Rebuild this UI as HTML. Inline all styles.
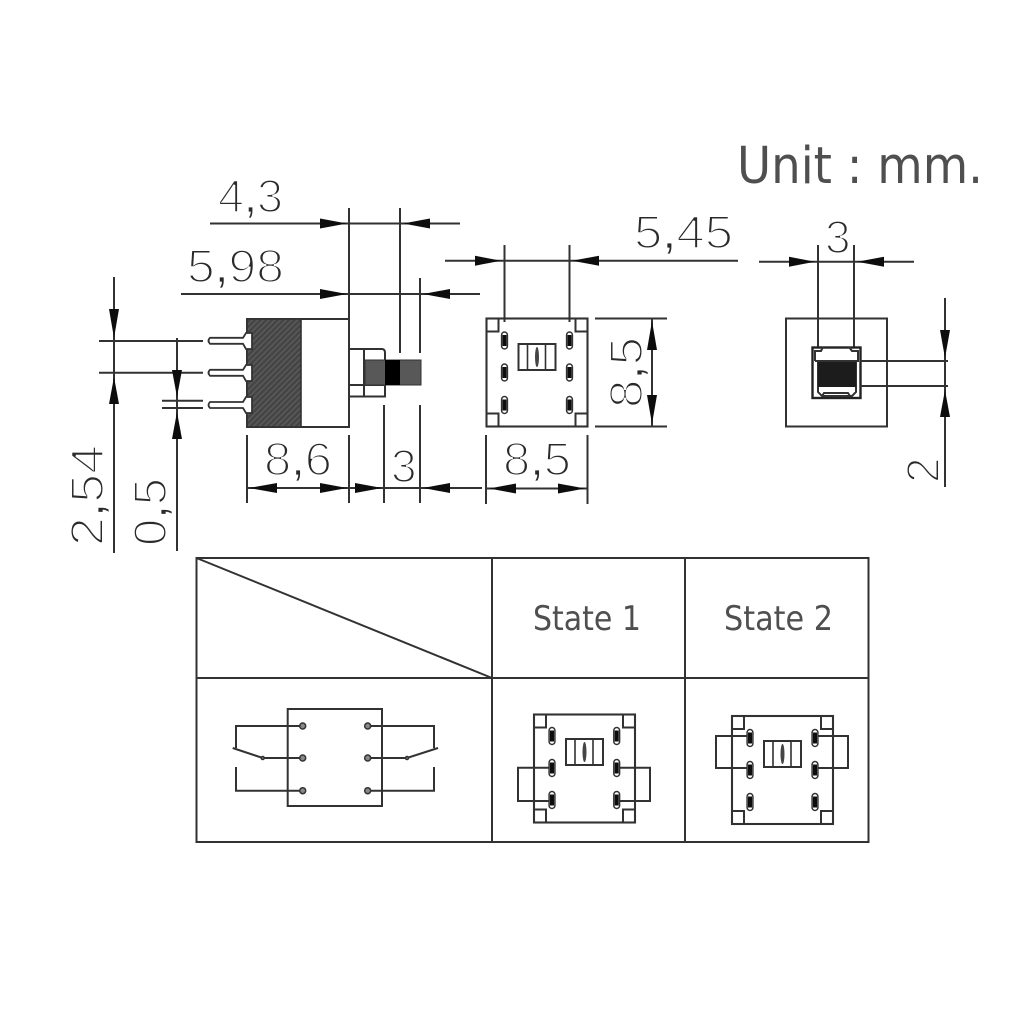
<!DOCTYPE html>
<html>
<head>
<meta charset="utf-8">
<style>
html,body{margin:0;padding:0;background:#fff;width:1024px;height:1024px;overflow:hidden}
svg{display:block}
.cad{font-family:"Liberation Sans",sans-serif;font-size:46px;fill:#2a2a2a;stroke:#fff;stroke-width:2px}
.cad tspan{stroke-width:.7px}
.lab{font-family:"DejaVu Sans",sans-serif;fill:#505050}
.l{fill:none;stroke:#333;stroke-width:2}
.a{fill:#111;stroke:none}
</style>
</head>
<body>
<svg width="1024" height="1024" viewBox="0 0 1024 1024" xmlns="http://www.w3.org/2000/svg">
<defs>
  <filter id="soft" filterUnits="userSpaceOnUse" x="0" y="0" width="1024" height="1024"><feGaussianBlur stdDeviation="0.35"/></filter>
  <g id="slot">
    <rect x="-2.9" y="-8.5" width="5.8" height="17" rx="2.9" fill="#fff" stroke="#333" stroke-width="1.5"/>
    <rect x="-2" y="-5.5" width="4" height="11" fill="#111"/>
  </g>
  <g id="center">
    <rect x="0" y="0" width="37" height="26" fill="none" stroke="#333" stroke-width="2"/>
    <path d="M9 0V26M27 0V26" fill="none" stroke="#333" stroke-width="1.6"/>
    <ellipse cx="18.5" cy="13" rx="2" ry="10" fill="#444"/>
  </g>
  <g id="top">
    <rect x="0" y="0" width="101" height="108" fill="none" stroke="#333" stroke-width="2.1"/>
    <path d="M0 13H12V0M101 13H89V0M0 95H12V108M101 95H89V108" fill="none" stroke="#333" stroke-width="2"/>
  </g>
  <pattern id="hatch" width="4" height="4" patternUnits="userSpaceOnUse" patternTransform="rotate(-45)">
    <rect width="4" height="4" fill="#444"/>
    <rect width="4" height="1.2" fill="#5e5e5e"/>
  </pattern>
</defs>
<g filter="url(#soft)">
<!-- CAD labels -->
<text class="cad" x="218" y="212" textLength="65" lengthAdjust="spacingAndGlyphs">4<tspan>,</tspan>3</text>
<text class="cad" x="187" y="282" textLength="97" lengthAdjust="spacingAndGlyphs">5<tspan>,</tspan>98</text>
<text class="cad" x="264" y="475" textLength="68" lengthAdjust="spacingAndGlyphs">8<tspan>,</tspan>6</text>
<text class="cad" x="391" y="482">3</text>
<text class="cad" x="503" y="475" textLength="68" lengthAdjust="spacingAndGlyphs">8<tspan>,</tspan>5</text>
<text class="cad" x="634" y="248" textLength="99" lengthAdjust="spacingAndGlyphs">5<tspan>,</tspan>45</text>
<text class="cad" x="825" y="253">3</text>
<text class="cad" transform="translate(103,546) rotate(-90)" textLength="101" lengthAdjust="spacingAndGlyphs">2<tspan>,</tspan>54</text>
<text class="cad" transform="translate(166,546) rotate(-90)" textLength="68" lengthAdjust="spacingAndGlyphs">0<tspan>,</tspan>5</text>
<text class="cad" transform="translate(642,408) rotate(-90)" textLength="71" lengthAdjust="spacingAndGlyphs">8<tspan>,</tspan>5</text>
<text class="cad" transform="translate(939,483) rotate(-90)">2</text>

<!-- Side view -->
<rect x="247" y="319" width="102" height="108" fill="#fff" stroke="#333" stroke-width="2"/>
<rect x="247" y="319" width="54" height="108" fill="url(#hatch)" stroke="#333" stroke-width="1.6"/>
<path class="l" d="M349 349H382Q385 349 385 353V396.5H349M364 349V396.5M349 385H385"/>
<rect x="365" y="360" width="56" height="25" fill="#585858" stroke="#333" stroke-width="1"/>
<rect x="385" y="360" width="15" height="25" fill="#000"/>
<!-- pins -->
<g fill="#fff" stroke="#333" stroke-width="1.8">
  <path d="M210 337.8H243L246 333H252V349H246L243 343.8H210Q207 340.8 210 337.8Z"/>
  <path d="M210 369.8H243L246 365H252V381H246L243 375.8H210Q207 372.8 210 369.8Z"/>
  <path d="M210 402H243L246 397H252V413H246L243 408H210Q207 405 210 402Z"/>
</g>

<!-- Side view dims -->
<path class="l" d="M349 208V320M400 208V353M420 278V353M210 223.5H460M181 294H480"/>
<polygon class="a" points="347,223.5 320,218.5 320,228.5"/>
<polygon class="a" points="403,223.5 430,218.5 430,228.5"/>
<polygon class="a" points="347,294 320,289 320,299"/>
<polygon class="a" points="423,294 450,289 450,299"/>

<path class="l" d="M99 341H203M99 372.7H203M162 400.7H203M162 408H203M114 277V553M177 338V551"/>
<polygon class="a" points="114,338 109,309 119,309"/>
<polygon class="a" points="114,377 109,404 119,404"/>
<polygon class="a" points="177,397 172,370 182,370"/>
<polygon class="a" points="177,412 172,439 182,439"/>

<path class="l" d="M247 435V503M349 435V503M384 405V503M420 405V503M247 488H482M486 435V504M587.5 435V504M486 488.5H587"/>
<polygon class="a" points="249,488 277,483 277,493"/>
<polygon class="a" points="347,488 320,483 320,493"/>
<polygon class="a" points="382,488 355,483 355,493"/>
<polygon class="a" points="423,488 450,483 450,493"/>
<polygon class="a" points="489,488.5 516,483.5 516,493.5"/>
<polygon class="a" points="585,488.5 558,483.5 558,493.5"/>

<!-- Top view -->
<use href="#top" x="486.5" y="318.5"/>
<path class="l" d="M504.5 245V322M569.5 245V322M445 260.7H738"/>
<polygon class="a" points="501,260.7 475,255.7 475,265.7"/>
<polygon class="a" points="572,260.7 599,255.7 599,265.7"/>
<use href="#slot" x="504.5" y="340.5"/><use href="#slot" x="504.5" y="372.5"/><use href="#slot" x="504.5" y="405"/>
<use href="#slot" x="569.5" y="340.5"/><use href="#slot" x="569.5" y="372.5"/><use href="#slot" x="569.5" y="405"/>
<use href="#center" x="518.5" y="344"/>
<path class="l" d="M595 318.5H667M595 426.5H667M652 318.5V426.5"/>
<polygon class="a" points="652,321 647,350 657,350"/>
<polygon class="a" points="652,424 647,395 657,395"/>

<!-- Front view -->
<rect x="786" y="318.5" width="101" height="108" fill="none" stroke="#333" stroke-width="2"/>
<path class="l" d="M818 245V348M854 245V348M759 261.7H914"/>
<polygon class="a" points="815,261.7 789,256.7 789,266.7"/>
<polygon class="a" points="857,261.7 884,256.7 884,266.7"/>
<rect x="812.5" y="347.5" width="48" height="50.5" fill="#fff" stroke="#222" stroke-width="2.4"/>
<path class="l" d="M815 361H858V351H852L849 347M815 361V351H821L823 347M818 362V392L822 396H852L856 392V362M822 396L824 393H848L850 396"/>
<rect x="818" y="362" width="38" height="25" fill="#1c1c1c"/>
<path class="l" d="M860 361H948M860 386H948M945 298V487"/>
<polygon class="a" points="945,358 940,330 950,330"/>
<polygon class="a" points="945,390 940,417 950,417"/>

<!-- Unit -->
<text class="lab" x="737" y="183" font-size="51" textLength="246" lengthAdjust="spacingAndGlyphs">Unit : mm.</text>

<!-- Table -->
<path d="M196.5 558H868.5V842H196.5ZM196.5 678H868.5M492 558V842M685 558V842M196.5 558L492 678" fill="none" stroke="#333" stroke-width="2"/>
<text class="lab" x="533" y="630" font-size="34" textLength="108" lengthAdjust="spacingAndGlyphs">State 1</text>
<text class="lab" x="724" y="630" font-size="34" textLength="109" lengthAdjust="spacingAndGlyphs">State 2</text>

<!-- Schematic -->
<rect x="287.7" y="709" width="94.3" height="97" fill="none" stroke="#333" stroke-width="2"/>
<path class="l" d="M302.7 726H236V748M232.7 748L262.7 758H302.7M236 767V790.7H302.7M367.7 726H434V748M438 748L407 758H367.7M434 767V790.7H367.7"/>
<g fill="#888" stroke="#333" stroke-width="1.5">
  <circle cx="302.7" cy="726" r="3"/><circle cx="302.7" cy="758" r="3"/><circle cx="302.7" cy="790.7" r="3"/>
  <circle cx="367.7" cy="726" r="3"/><circle cx="367.7" cy="758" r="3"/><circle cx="367.7" cy="790.7" r="3"/>
  <circle cx="262.7" cy="758" r="1.5"/><circle cx="407" cy="758" r="1.5"/>
</g>

<!-- State 1 -->
<use href="#top" x="534" y="714.5"/>
<path class="l" d="M552 767.7H518V801H552M616.7 767.7H650V801H616.7"/>
<use href="#slot" x="552" y="736"/><use href="#slot" x="552" y="768"/><use href="#slot" x="552" y="800"/>
<use href="#slot" x="616.7" y="736"/><use href="#slot" x="616.7" y="768"/><use href="#slot" x="616.7" y="800"/>
<use href="#center" x="566" y="739"/>

<!-- State 2 -->
<use href="#top" x="732" y="716"/>
<path class="l" d="M750 736H716V768H750M815 736H848V768H815"/>
<use href="#slot" x="750" y="738"/><use href="#slot" x="750" y="770"/><use href="#slot" x="750" y="802"/>
<use href="#slot" x="815" y="738"/><use href="#slot" x="815" y="770"/><use href="#slot" x="815" y="802"/>
<use href="#center" x="764" y="741"/>
</g>
</svg>
</body>
</html>
